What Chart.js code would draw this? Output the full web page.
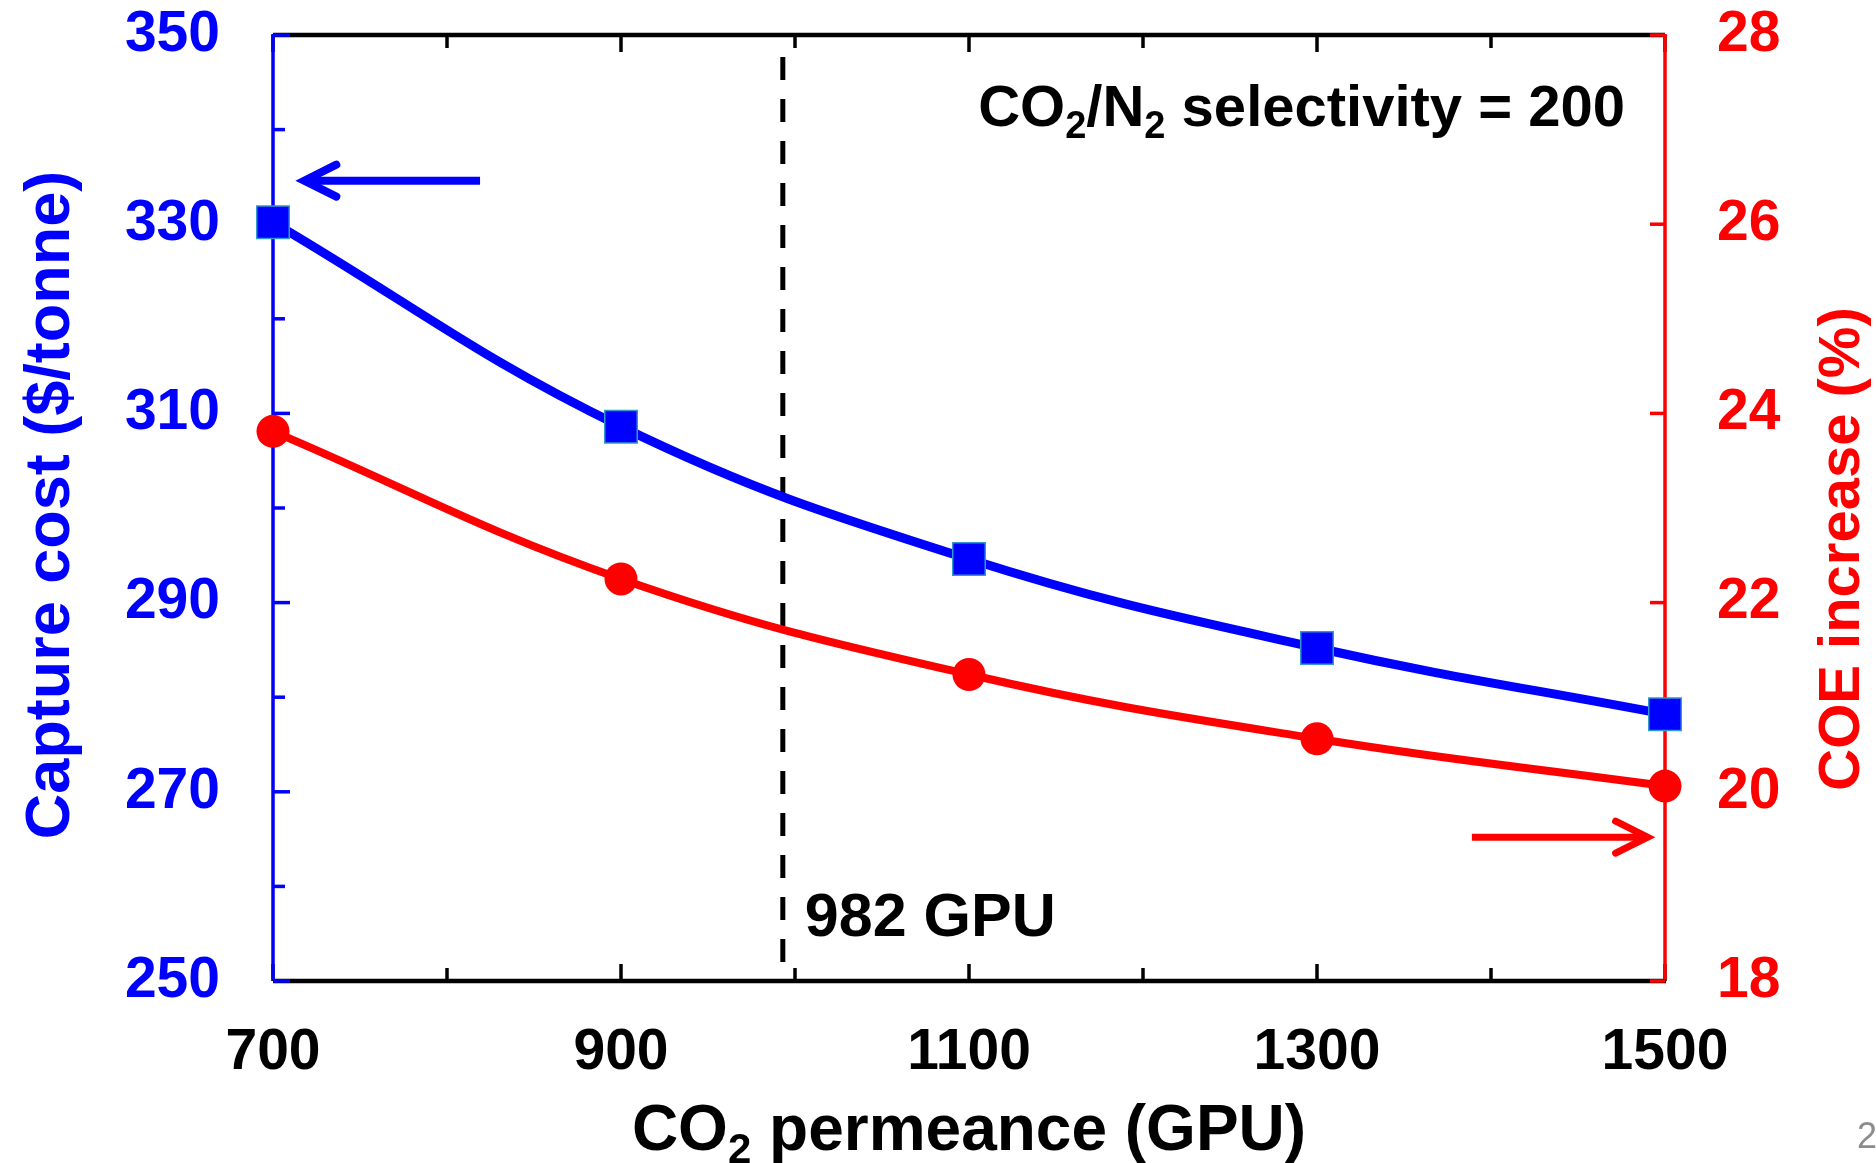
<!DOCTYPE html>
<html><head><meta charset="utf-8">
<script src="https://cdn.jsdelivr.net/npm/chart.js@4/dist/chart.umd.min.js"></script>
<style>html,body{margin:0;padding:0;background:#fff;overflow:hidden}#wrap{width:1876px;height:1163px;position:relative}</style>
</head><body><div id="wrap"><canvas id="c" width="1876" height="1163"></canvas></div>
<script>
// ---- data ----
const permeance = [700, 900, 1100, 1300, 1500];
const captureCost = [330.2, 308.6, 294.6, 285.2, 278.2];
const coeIncrease = [23.81, 22.25, 21.24, 20.56, 20.06];
const xTickLabels = [700, 900, 1100, 1300, 1500];
const xMinorTicks = [800, 1000, 1200, 1400];
const leftTickLabels = [250, 270, 290, 310, 330, 350];
const leftMinorTicks = [260, 280, 300, 320, 340];
const rightTickLabels = [18, 20, 22, 24, 26, 28];
const markerPermeance = 993;
const markerText = '982 GPU';
const blueArrow = {from: 819, to: 718, value: 334.6};
const redArrow = {from: 1389, to: 1490, value: 19.52};

const FONT = "'Liberation Sans', Arial, sans-serif";
const BLUE = '#0000ff', RED = '#ff0000';

function drawRich(ctx, parts, x, y, align, size, color) {
  ctx.save();
  ctx.fillStyle = color;
  ctx.textBaseline = 'alphabetic';
  ctx.textAlign = 'left';
  const subSize = Math.round(size * 0.66);
  let total = 0;
  parts.forEach(p => { ctx.font = 'bold ' + (p.sub ? subSize : size) + 'px ' + FONT; total += ctx.measureText(p.t).width; });
  let cx = align === 'right' ? x - total : (align === 'center' ? x - total / 2 : x);
  parts.forEach(p => {
    ctx.font = 'bold ' + (p.sub ? subSize : size) + 'px ' + FONT;
    ctx.fillText(p.t, cx, p.sub ? y + size * 0.2 : y);
    cx += ctx.measureText(p.t).width;
  });
  ctx.restore();
}

const framePlugin = {
  id: 'frame',
  beforeDatasetsDraw(chart) {
    const {ctx, chartArea: a, scales} = chart;
    const x = scales.x, yL = scales.yL, yR = scales.yR;
    ctx.save();
    // dashed marker line
    const mx = x.getPixelForValue(markerPermeance);
    ctx.strokeStyle = '#000'; ctx.lineWidth = 5;
    ctx.setLineDash([23, 19]); ctx.lineDashOffset = 23;
    ctx.beginPath(); ctx.moveTo(mx, a.bottom); ctx.lineTo(mx, a.top + 12); ctx.stroke();
    ctx.setLineDash([]);
    // top & bottom axes
    ctx.strokeStyle = '#000'; ctx.lineWidth = 4.5;
    ctx.beginPath(); ctx.moveTo(a.left, a.top); ctx.lineTo(a.right, a.top); ctx.stroke();
    ctx.beginPath(); ctx.moveTo(a.left, a.bottom); ctx.lineTo(a.right + 1, a.bottom); ctx.stroke();
    ctx.lineWidth = 3.5;
    const xt = xTickLabels.map(v => [v, 17]).concat(xMinorTicks.map(v => [v, 13]));
    xt.forEach(([v, len]) => {
      const px = x.getPixelForValue(v);
      ctx.beginPath(); ctx.moveTo(px, a.bottom); ctx.lineTo(px, a.bottom - len); ctx.stroke();
      ctx.beginPath(); ctx.moveTo(px, a.top); ctx.lineTo(px, a.top + len); ctx.stroke();
    });
    // left axis
    ctx.strokeStyle = BLUE; ctx.lineWidth = 3.5;
    ctx.beginPath(); ctx.moveTo(a.left, a.top - 1); ctx.lineTo(a.left, a.bottom - 2); ctx.stroke();
    const lt = leftTickLabels.map(v => [v, 17]).concat(leftMinorTicks.map(v => [v, 12]));
    lt.forEach(([v, len]) => {
      const py = yL.getPixelForValue(v);
      ctx.beginPath(); ctx.moveTo(a.left, py); ctx.lineTo(a.left + len, py); ctx.stroke();
    });
    // right axis
    ctx.strokeStyle = RED;
    ctx.beginPath(); ctx.moveTo(a.right, a.top - 1); ctx.lineTo(a.right, a.bottom - 2); ctx.stroke();
    rightTickLabels.forEach(v => {
      const py = yR.getPixelForValue(v);
      ctx.beginPath(); ctx.moveTo(a.right, py); ctx.lineTo(a.right - 15, py); ctx.stroke();
    });
    ctx.restore();
  },
  afterDraw(chart) {
    const {ctx, chartArea: a, scales} = chart;
    const x = scales.x, yL = scales.yL, yR = scales.yR;
    ctx.save();
    // arrows
    function arrow(x1, x2, py, color, w) {
      ctx.strokeStyle = color; ctx.lineWidth = w; ctx.lineCap = 'butt';
      ctx.beginPath(); ctx.moveTo(x1, py); ctx.lineTo(x2, py); ctx.stroke();
      const dir = x2 > x1 ? 1 : -1;
      ctx.lineCap = 'round'; ctx.lineJoin = 'miter';
      ctx.beginPath();
      ctx.moveTo(x2 - dir * 32, py - 16); ctx.lineTo(x2, py); ctx.lineTo(x2 - dir * 32, py + 16);
      ctx.stroke();
    }
    arrow(x.getPixelForValue(blueArrow.from), x.getPixelForValue(blueArrow.to), yL.getPixelForValue(blueArrow.value), BLUE, 8);
    arrow(x.getPixelForValue(redArrow.from), x.getPixelForValue(redArrow.to), yR.getPixelForValue(redArrow.value), RED, 7);
    // annotation texts
    drawRich(ctx, [{t: 'CO'}, {t: '2', sub: true}, {t: '/N'}, {t: '2', sub: true}, {t: ' selectivity = 200'}], a.right - 40, 126, 'right', 58, '#000');
    drawRich(ctx, [{t: markerText}], x.getPixelForValue(markerPermeance) + 22, 936, 'left', 61, '#000');
    // x title
    drawRich(ctx, [{t: 'CO'}, {t: '2', sub: true}, {t: ' permeance (GPU)'}], (a.left + a.right) / 2, 1150, 'center', 64, '#000');
    // y titles
    ctx.textAlign = 'center'; ctx.textBaseline = 'middle';
    ctx.save(); ctx.translate(52, 505); ctx.rotate(-Math.PI / 2);
    ctx.fillStyle = BLUE; ctx.font = 'bold 63px ' + FONT;
    ctx.fillText('Capture cost ($/tonne)', 0, 0); ctx.restore();
    ctx.save(); ctx.translate(1843, 549); ctx.rotate(-Math.PI / 2);
    ctx.fillStyle = RED; ctx.font = 'bold 58px ' + FONT;
    ctx.fillText('COE increase (%)', 0, 0); ctx.restore();
    // page number fragment
    ctx.fillStyle = '#8c8c8c'; ctx.font = '36px ' + FONT; ctx.textAlign = 'left'; ctx.textBaseline = 'alphabetic';
    ctx.fillText('2', 1857, 1148);
    ctx.restore();
  }
};

const tickFont = {family: FONT, size: 57, weight: 'bold'};
const plain = v => String(v);
new Chart(document.getElementById('c'), {
  type: 'line',
  data: {
    datasets: [
      {
        label: 'COE increase (%)',
        data: permeance.map((v, i) => ({x: v, y: coeIncrease[i]})),
        yAxisID: 'yR', borderColor: RED, borderWidth: 8, backgroundColor: RED,
        pointStyle: 'circle', pointRadius: 16.5, pointBackgroundColor: RED, pointBorderColor: RED, pointBorderWidth: 0,
        tension: 0.4, clip: false
      },
      {
        label: 'Capture cost ($/tonne)',
        data: permeance.map((v, i) => ({x: v, y: captureCost[i]})),
        yAxisID: 'yL', borderColor: BLUE, borderWidth: 9, backgroundColor: BLUE,
        pointStyle: 'rect', pointRadius: 23, pointBackgroundColor: BLUE, pointBorderColor: '#3399cc', pointBorderWidth: 1.5,
        tension: 0.4, clip: false
      }
    ]
  },
  options: {
    responsive: false, animation: false, devicePixelRatio: 1,
    layout: {padding: {top: 35, left: 0, right: 0, bottom: 0}},
    plugins: {legend: {display: false}, tooltip: {enabled: false}},
    scales: {
      x: {
        type: 'linear', position: 'bottom', min: 700, max: 1500,
        afterBuildTicks: s => { s.ticks = xTickLabels.map(v => ({value: v})); },
        afterFit: s => { s.height = 182; s.paddingLeft = 0; s.paddingRight = 0; },
        grid: {display: false, drawTicks: false}, border: {display: false},
        ticks: {font: tickFont, color: '#000', padding: 38, maxRotation: 0, autoSkip: false, callback: plain}
      },
      yL: {
        type: 'linear', position: 'left', min: 250, max: 350,
        afterBuildTicks: s => { s.ticks = leftTickLabels.map(v => ({value: v})); },
        afterFit: s => { s.width = 273; s.paddingTop = 0; s.paddingBottom = 0; },
        grid: {display: false, drawTicks: false}, border: {display: false},
        ticks: {font: tickFont, color: BLUE, padding: 53, callback: plain}
      },
      yR: {
        type: 'linear', position: 'right', min: 18, max: 28,
        afterBuildTicks: s => { s.ticks = rightTickLabels.map(v => ({value: v})); },
        afterFit: s => { s.width = 211; s.paddingTop = 0; s.paddingBottom = 0; },
        grid: {display: false, drawTicks: false}, border: {display: false},
        ticks: {font: tickFont, color: RED, padding: 52, callback: plain}
      }
    }
  },
  plugins: [framePlugin]
});
</script></body></html>
